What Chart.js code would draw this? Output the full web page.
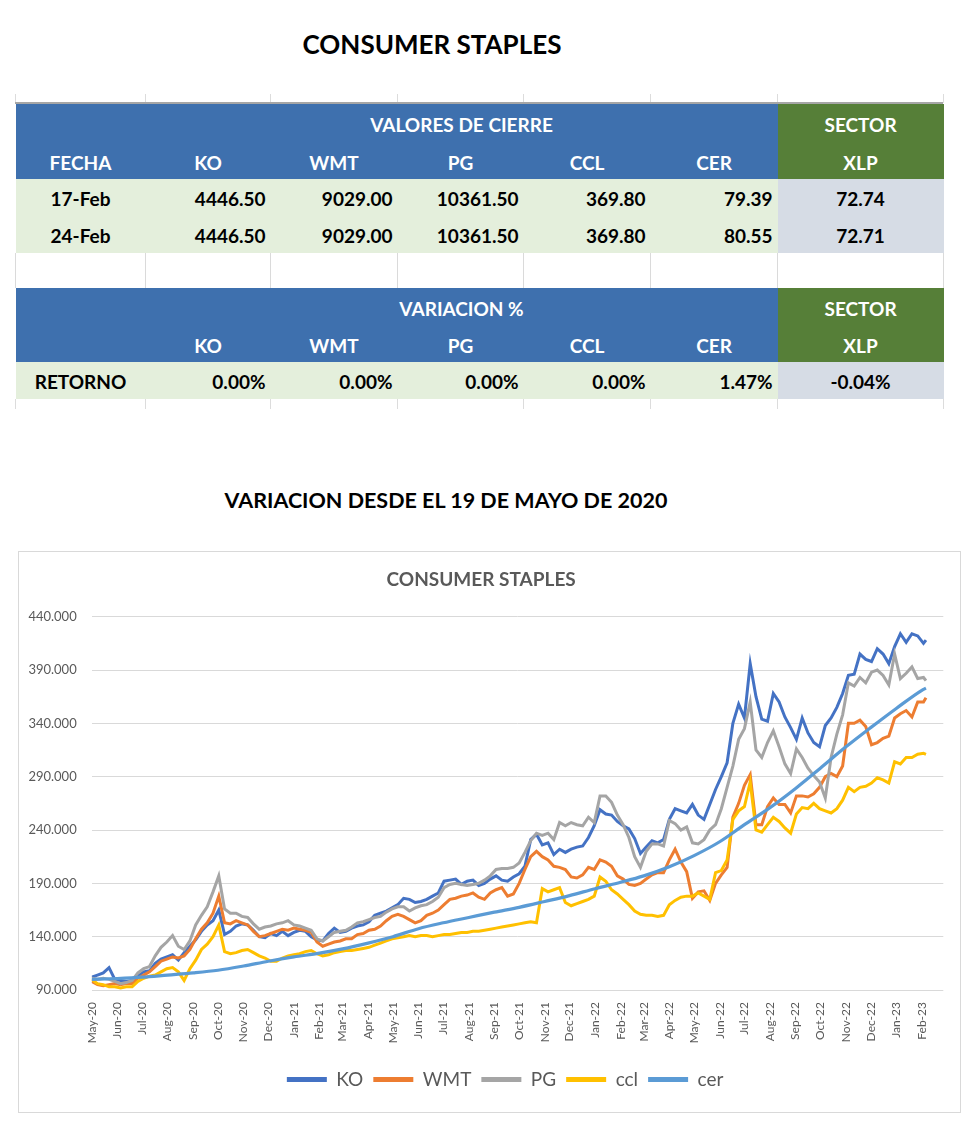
<!DOCTYPE html>
<html><head><meta charset="utf-8">
<script src="https://cdn.jsdelivr.net/npm/chart.js@4.4.1/dist/chart.umd.min.js"></script>
<style>
body{margin:0;width:980px;height:1133px;background:#fff;position:relative;font-family:Lato,"Open Sans",sans-serif;overflow:hidden}
.t1{position:absolute;left:0;width:864px;top:29px;text-align:center;font-weight:700;font-size:26px;line-height:30px;color:#000}
.t2{position:absolute;left:0;width:892px;top:487px;text-align:center;font-weight:700;font-size:21.5px;line-height:26px;color:#000}
#topline{position:absolute;left:15px;top:102px;width:928px;height:2px;background:#A6A6A6}
table{position:absolute;left:15px;top:104px;border-collapse:collapse;table-layout:fixed;width:928px;font-weight:700;font-size:19px}
td{padding:0 5px;white-space:nowrap;overflow:hidden}
.b{background:#3E70AE;color:#fff;text-align:center;padding-top:2px}
.g{background:#567F38;color:#fff;text-align:center;padding-top:2px}
.c{background:#E4EFDC;text-align:center;color:#000;padding-top:2px}
.r{background:#E4EFDC;text-align:right;color:#000;padding-top:2px}
.s{background:#D6DCE5;text-align:center;color:#000;padding-top:2px}
.e td{border-left:1px solid #DADADA;background:#fff}
.vl{position:absolute;width:1px;background:#DCDCDC}
#box{position:absolute;left:18px;top:551px;width:943px;height:562px;border:1px solid #D9D9D9;box-sizing:border-box;background:#fff}
#cv{position:absolute;left:0;top:0}
</style></head>
<body>
<div class="t1">CONSUMER STAPLES</div>
<div id="grid"></div>
<div id="topline"></div>
<table>
<colgroup><col style="width:130px"><col style="width:125px"><col style="width:127px"><col style="width:126px"><col style="width:127px"><col style="width:127px"><col style="width:166px"></colgroup>
<tr style="height:39px"><td class="b"></td><td class="b" colspan="5">VALORES DE CIERRE</td><td class="g">SECTOR</td></tr>
<tr style="height:36px"><td class="b">FECHA</td><td class="b">KO</td><td class="b">WMT</td><td class="b">PG</td><td class="b">CCL</td><td class="b">CER</td><td class="g">XLP</td></tr>
<tr style="height:37px"><td class="c">17-Feb</td><td class="r">4446.50</td><td class="r">9029.00</td><td class="r">10361.50</td><td class="r">369.80</td><td class="r">79.39</td><td class="s">72.74</td></tr>
<tr style="height:37px"><td class="c">24-Feb</td><td class="r">4446.50</td><td class="r">9029.00</td><td class="r">10361.50</td><td class="r">369.80</td><td class="r">80.55</td><td class="s">72.71</td></tr>
<tr class="e" style="height:35px"><td></td><td></td><td></td><td></td><td></td><td></td><td style="border-right:1px solid #DADADA"></td></tr>
<tr style="height:38px"><td class="b"></td><td class="b" colspan="5">VARIACION %</td><td class="g">SECTOR</td></tr>
<tr style="height:36px"><td class="b"></td><td class="b">KO</td><td class="b">WMT</td><td class="b">PG</td><td class="b">CCL</td><td class="b">CER</td><td class="g">XLP</td></tr>
<tr style="height:37px"><td class="c">RETORNO</td><td class="r">0.00%</td><td class="r">0.00%</td><td class="r">0.00%</td><td class="r">0.00%</td><td class="r">1.47%</td><td class="s">-0.04%</td></tr>
</table>
<div class="t2">VARIACION DESDE EL 19 DE MAYO DE 2020</div>
<div id="box"><canvas id="cv" width="941" height="560"></canvas></div>
<script>
// faint spreadsheet cell lines around the table
(function(){
  const g = document.getElementById('grid');
  [15,145,270,397,523,650,777,943].forEach(x => {
    [[94,9],[399,10]].forEach(([t,h]) => {
      const d = document.createElement('div'); d.className = 'vl';
      d.style.left = x + 'px'; d.style.top = t + 'px'; d.style.height = h + 'px'; g.appendChild(d);
    });
  });
})();

// ---- data ----
const tickLabels = ['May-20','Jun-20','Jul-20','Aug-20','Sep-20','Oct-20','Nov-20','Dec-20','Jan-21','Feb-21','Mar-21','Apr-21','May-21','Jun-21','Jul-21','Aug-21','Sep-21','Oct-21','Nov-21','Dec-21','Jan-22','Feb-22','Mar-22','Apr-22','May-22','Jun-22','Jul-22','Aug-22','Sep-22','Oct-22','Nov-22','Dec-22','Jan-23','Feb-23'];
const startDate = '2020-05-19';   // weekly observations from this date
const lastDate = '2023-02-24';    // final observation
const seriesNames = ['KO','WMT','PG','ccl','cer'];
const ko = [102,104,106,111,100,99,98,99,103,107,108,115,119,121,123,118,125,131,137,145,151,155,165,142,145,150,152,151,146,140,139,143,141,145,141,144,146,145,140,
137,136,143,148,144,145,148,150,151,154,160,162,164,167,170,176,175,172,173,175,178,181,192,193,194,189,192,193,188,190,194,197,193,192,196,199,
206,231,236,226,228,217,222,219,222,224,225,233,244,259,255,254,248,244,241,232,218,224,230,228,231,250,260,258,256,264,254,250,264,278,290,303,
340,358,345,396,365,344,342,368,360,346,336,325,345,331,322,318,338,345,355,368,385,386,405,400,398,410,405,396,412,424,416,424,422,415,418];
const wmt = [98,95,94,95,96,95,96,96,101,104,107,112,117,119,121,120,122,128,138,147,153,162,178,153,152,155,153,151,145,140,141,143,145,147,146,148,147,146,144,
135,131,133,135,136,138,138,142,143,146,147,150,155,159,161,159,156,153,155,160,162,165,170,175,176,178,179,181,177,175,181,184,186,178,180,190,
203,215,220,215,212,206,205,203,196,195,198,205,203,212,210,206,197,194,189,188,190,194,198,200,200,212,222,210,201,176,182,183,174,190,198,205,
252,265,282,292,245,245,262,270,264,264,256,272,272,271,274,280,290,293,290,300,340,340,343,337,320,322,326,328,345,349,352,346,360,360,364];
const pg = [101,100,101,100,98,96,97,99,106,110,112,122,130,135,141,131,128,136,151,160,168,182,197,166,162,162,159,158,152,147,149,150,152,153,155,151,150,148,146,
138,136,140,144,145,146,149,153,154,156,158,159,163,166,168,168,164,167,169,170,173,177,186,189,190,189,188,189,190,193,197,203,204,204,205,209,
219,230,237,235,237,231,247,244,247,245,244,252,247,272,272,266,254,245,233,215,205,220,227,227,225,249,246,240,243,228,227,231,240,245,260,280,
300,325,335,360,315,308,322,333,318,302,293,316,308,298,291,285,270,308,330,348,378,375,383,378,388,390,385,376,405,382,387,393,382,383,380];
const ccl = [100,96,95,93,93,92,93,93,98,101,103,104,107,110,111,107,99,110,118,128,133,140,151,126,124,125,127,128,125,122,120,117,117,120,122,123,124,126,127,
124,122,123,125,126,127,127,128,129,130,132,134,136,138,139,140,141,140,141,141,140,141,142,142,143,144,144,145,145,146,147,148,149,150,151,152,
153,154,153,185,182,184,186,172,169,171,173,175,178,196,192,184,180,175,170,164,161,160,160,159,160,170,174,177,178,178,181,178,175,200,202,212,
250,258,262,285,240,238,245,252,248,242,237,255,261,260,265,260,258,256,260,268,280,276,280,281,284,289,287,284,304,302,308,308,311,312,311];
// cer: value on the 19th of each month of tickLabels, then the final observation
const cer = [100,100.8,102,104,106,108.5,112.5,117,121,124.5,128.5,134,140,147.5,153,158,163,167.5,173,178.5,185,191,197,205.5,216,229,245,261,279,298,318,336,354,371,373];
const colors = ['#4472C4','#ED7D31','#A5A5A5','#FFC000','#5B9BD5'];

// ---- x positions (days since start) ----
const DAY = 86400000;
const t0 = Date.parse(startDate + 'T00:00:00Z');
const tLast = Math.round((Date.parse(lastDate + 'T00:00:00Z') - t0) / DAY);
const weekX = ko.map((_, i) => i === ko.length - 1 ? tLast : 7 * i);
const monthX = tickLabels.map((_, m) => Math.round((Date.UTC(2020, 4 + m, 19) - t0) / DAY));
const cerX = monthX.concat([tLast]);
const pts = (xs, ys) => ys.map((v, i) => ({x: xs[i], y: v}));

const weekly = [ko, wmt, pg, ccl];
const datasets = weekly.map((arr, i) => ({
  label: seriesNames[i], data: pts(weekX, arr), borderColor: colors[i], backgroundColor: colors[i],
  borderWidth: 3, pointRadius: 0, tension: 0, order: 5 - i
}));
datasets.push({label: seriesNames[4], data: pts(cerX, cer), borderColor: colors[4], backgroundColor: colors[4],
  borderWidth: 3.2, pointRadius: 0, cubicInterpolationMode: 'monotone', order: 1});

const FONT = 'Lato, "Open Sans", sans-serif';
const shiftLegend = {id: 'shiftLegend', afterLayout(chart) { const l = chart.legend; if (l) { l.left += 24; l.right += 24; } }};
new Chart(document.getElementById('cv'), {
  type: 'line',
  data: {datasets},
  plugins: [shiftLegend],
  options: {
    responsive: false, animation: false, devicePixelRatio: 1,
    layout: {padding: {left: 0, right: 16.7, top: 0, bottom: 13}},
    plugins: {
      title: {display: true, text: 'CONSUMER STAPLES', color: '#595959', font: {family: FONT, size: 19, weight: 'bold'}, padding: {top: 16.6, bottom: 25.3}},
      legend: {position: 'bottom', labels: {
        boxWidth: 40, boxHeight: 5, padding: 10, color: '#595959', font: {family: FONT, size: 19},
        sort: (a, b) => a.datasetIndex - b.datasetIndex,
        generateLabels: (chart) => Chart.defaults.plugins.legend.labels.generateLabels(chart).map(l => Object.assign(l, {lineWidth: 0}))
      }},
      tooltip: {enabled: false}
    },
    scales: {
      x: {type: 'linear', min: 0, max: 1032,
        afterBuildTicks: (s) => { s.ticks = monthX.map(v => ({value: v})); },
        afterFit: (s) => { s.height = 70; },
        ticks: {autoSkip: false, minRotation: 90, maxRotation: 90, padding: 12, color: '#595959', font: {family: FONT, size: 12},
          callback: (v) => tickLabels[monthX.indexOf(v)]},
        grid: {display: false, drawTicks: false}, border: {display: false}},
      y: {min: 90, max: 440,
        afterFit: (s) => { s.width = 72.7; },
        ticks: {stepSize: 50, padding: 15, color: '#595959', font: {family: FONT, size: 13}, callback: (v) => v.toFixed(3)},
        grid: {color: '#D9D9D9', lineWidth: 1, drawTicks: false}, border: {display: false}}
    }
  }
});
</script>
</body></html>
